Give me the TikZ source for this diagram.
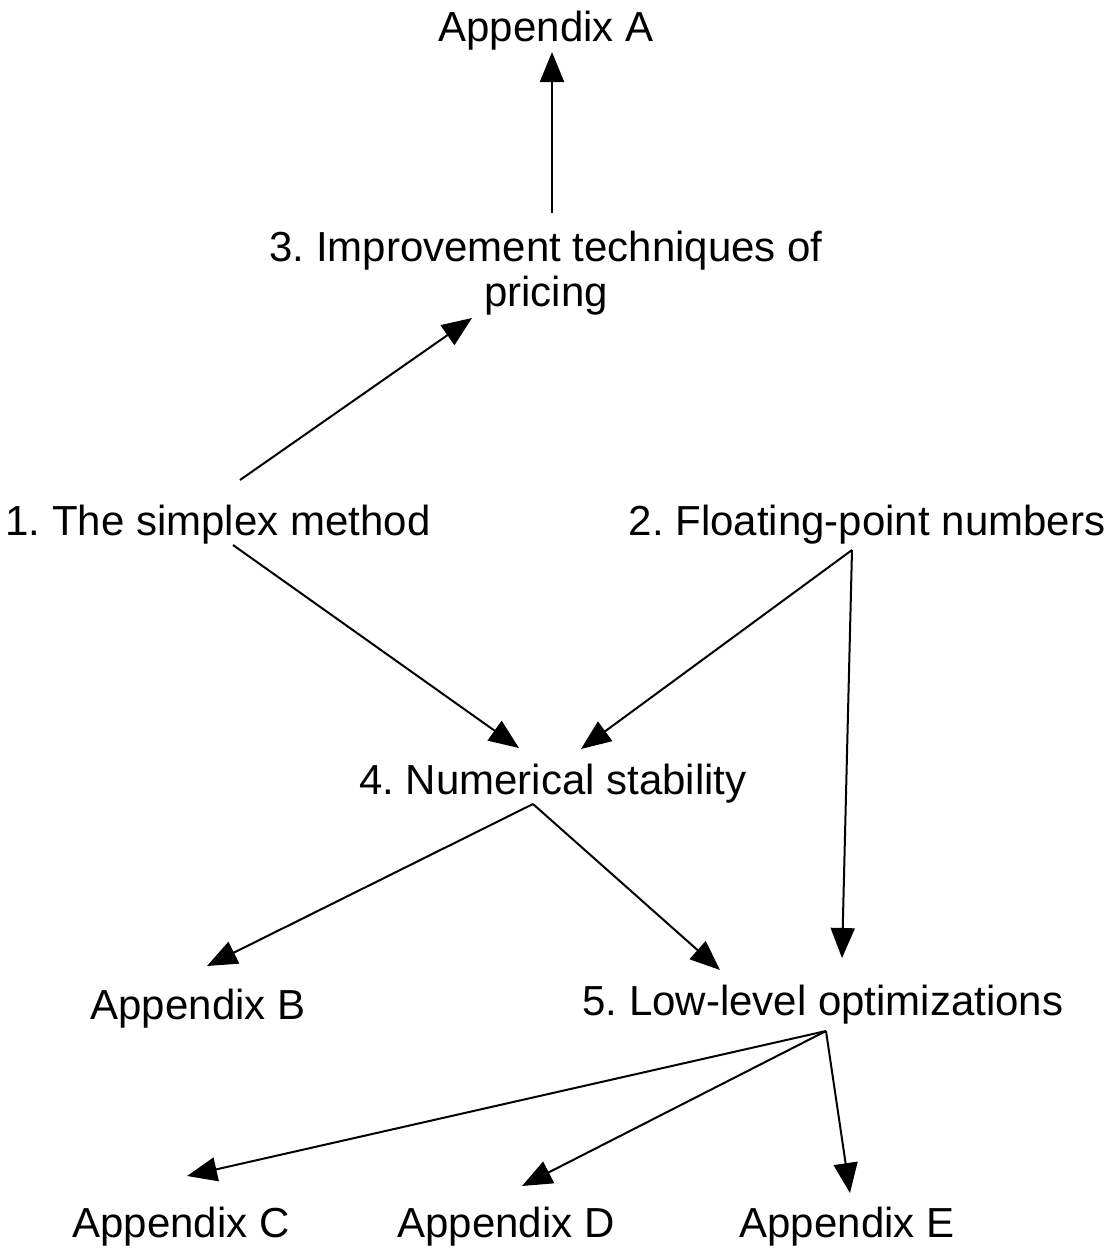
\documentclass[tikz,border=0pt]{standalone}
\usepackage{fontspec}
\setmainfont{Liberation Sans}
\usetikzlibrary{arrows.meta}
\frenchspacing
\begin{document}
\begin{tikzpicture}[x=1pt,y=-1pt,
  lbl/.style={inner sep=0pt, anchor=base, font=\fontsize{42}{45}\selectfont},
  link/.style={line width=2pt, -{Triangle[length=30pt,width=24pt]}}]
\path[use as bounding box] (0,0) rectangle (1112,1259);

% chapter and appendix labels
\node[lbl] (appA) at (546,41) {Appendix A};
\node[lbl, align=center] (ch3) at (546,306) {3. Improvement techniques of\\pricing};
\node[lbl] (ch1) at (218,535) {1. The simplex method};
\node[lbl] (ch2) at (867,535) {2. Floating-point numbers};
\node[lbl] (ch4) at (553,794) {4. Numerical stability};
\node[lbl] (appB) at (198,1019) {Appendix B};
\node[lbl] (ch5) at (823,1015) {5. Low-level optimizations};
\node[lbl] (appC) at (181,1237) {Appendix C};
\node[lbl] (appD) at (506,1237) {Appendix D};
\node[lbl] (appE) at (847,1237) {Appendix E};

% connector ports
\coordinate (ch3out) at (552,213);
\coordinate (appAin) at (552,52);
\coordinate (ch1up) at (240,480);
\coordinate (ch3in) at (472,318);
\coordinate (ch1down) at (233,545);
\coordinate (ch4inL) at (519,748);
\coordinate (ch2out) at (852,550);
\coordinate (ch4inR) at (581,749);
\coordinate (ch5inTop) at (842,958);
\coordinate (ch4out) at (533,804);
\coordinate (appBin) at (207,966);
\coordinate (ch5inL) at (720,970);
\coordinate (ch5out) at (826,1031);
\coordinate (appCin) at (187,1176);
\coordinate (appDin) at (522,1186);
\coordinate (appEin) at (850,1193);

% dependencies
\draw[link] (ch3out) -- (appAin);
\draw[link] (ch1up) -- (ch3in);
\draw[link] (ch1down) -- (ch4inL);
\draw[link] (ch2out) -- (ch4inR);
\draw[link] (ch2out) -- (ch5inTop);
\draw[link] (ch4out) -- (appBin);
\draw[link] (ch4out) -- (ch5inL);
\draw[link] (ch5out) -- (appCin);
\draw[link] (ch5out) -- (appDin);
\draw[link] (ch5out) -- (appEin);
\end{tikzpicture}
\end{document}
